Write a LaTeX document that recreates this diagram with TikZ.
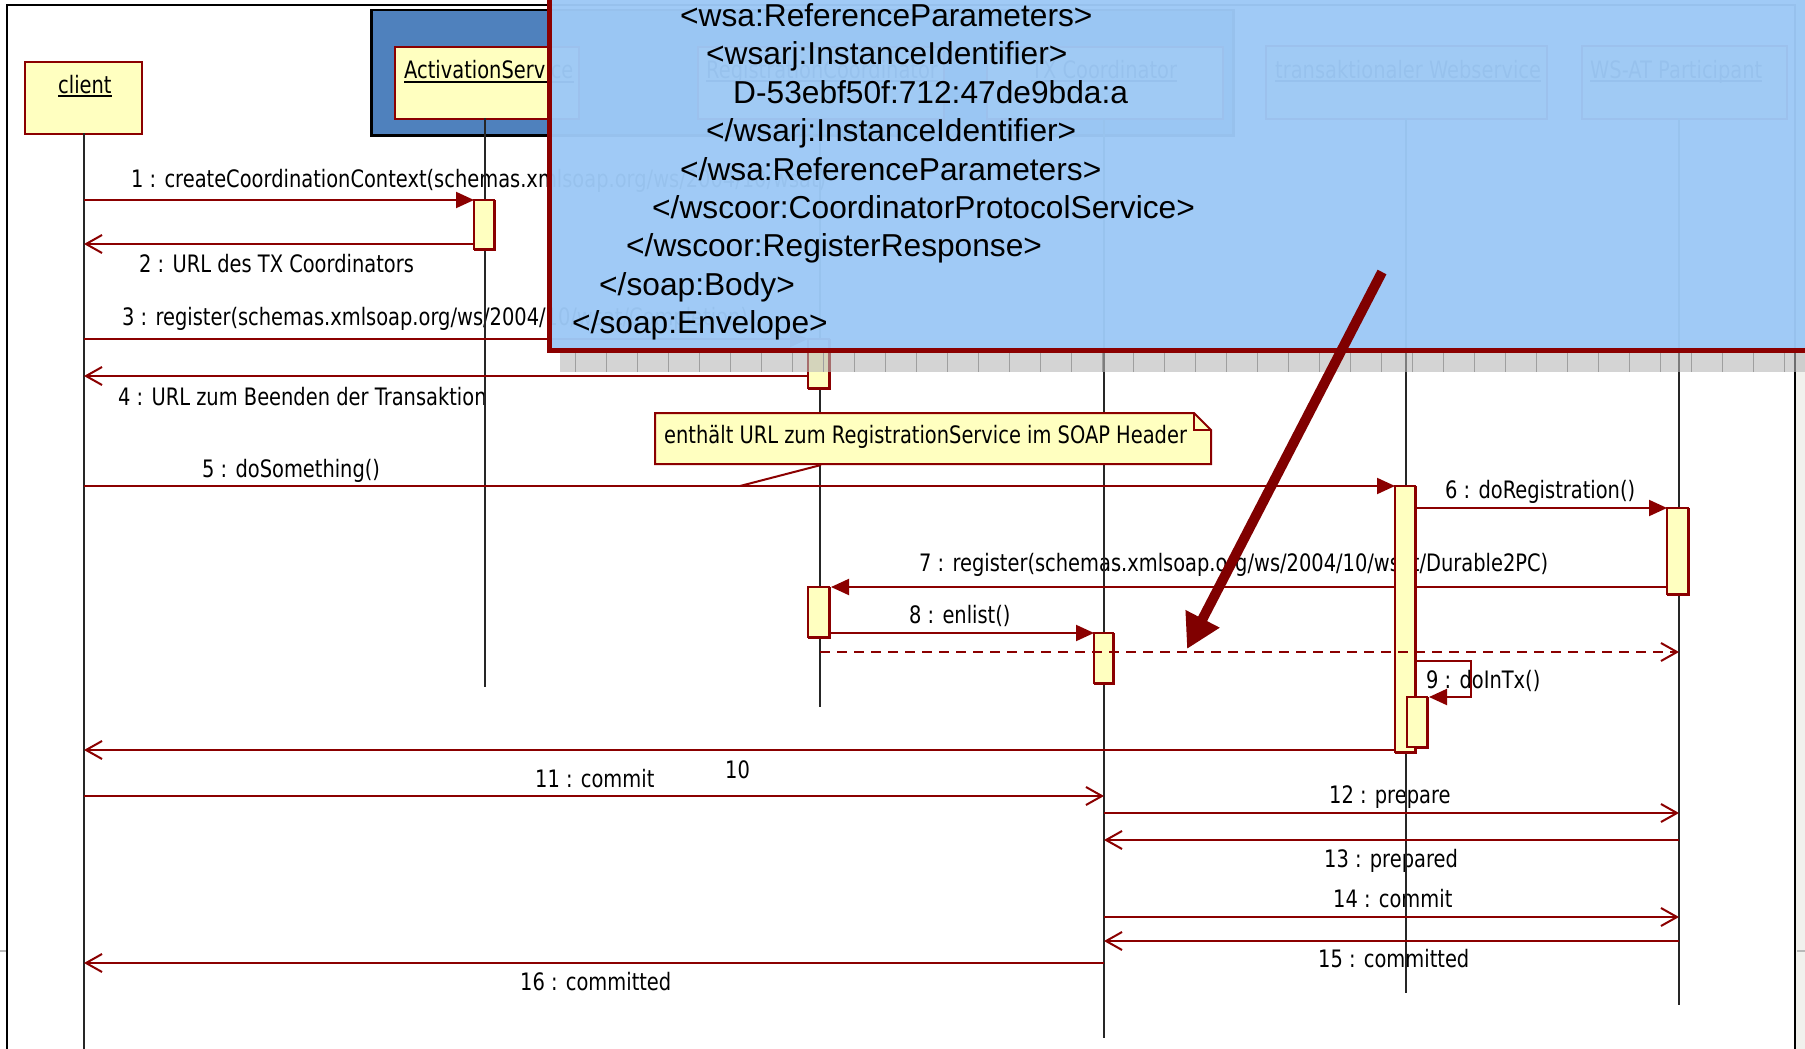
\documentclass[tikz,border=0pt]{standalone}
\usepackage{fontspec}
\setmainfont{DejaVu Sans}
\newfontfamily\umlfont[FakeStretch=0.81]{DejaVu Sans}
\newfontfamily\xmlfont{Liberation Sans}
\usetikzlibrary{arrows.meta}

\definecolor{umlred}{HTML}{8B0000}
\definecolor{bigred}{HTML}{800000}
\definecolor{umlyellow}{HTML}{FFFFC0}
\definecolor{groupblue}{HTML}{4F81BD}
\definecolor{overlayblue}{HTML}{9DC9F6}
\definecolor{shadowgray}{HTML}{B8B8B8}
\definecolor{sidegray}{HTML}{F1F1ED}

\begin{document}
\begin{tikzpicture}[x=1pt,y=-1pt,
  lbl/.style={anchor=base west, inner sep=0pt, font=\umlfont\fontsize{24}{28}\selectfont},
  xml/.style={anchor=base west, inner sep=0pt, font=\xmlfont\fontsize{31.7}{38}\selectfont},
  hbox/.style={draw=umlred, fill=umlyellow, line width=2pt, anchor=north west, inner sep=0pt},
  act/.style={draw=umlred, fill=umlyellow, line width=2pt, anchor=north west, inner sep=0pt, minimum width=20pt},
  life/.style={line width=1.5pt, black!85},
  msg/.style={umlred, line width=2pt},
  sync/.style={msg, -{Triangle[length=18pt,width=16pt]}},
  reply/.style={msg, -{Straight Barb[length=16pt,width=18pt,line width=2pt]}},
]
\useasboundingbox (0,0) rectangle (1805,1049);
\clip (0,0) rectangle (1805,1049);

% canvas, window edge and frame
\fill[white] (0,0) rectangle (1805,1049);
\fill[sidegray] (1796,0) rectangle (1805,1049);
\draw[gray!55, line width=2pt] (0,951) -- (6,951) (1797,951) -- (1805,951);
\draw[line width=2pt] (7,1060) -- (7,5) -- (1795,5) -- (1795,1060);

% coordinator group
\node[draw=black, fill=groupblue, line width=2.5pt, anchor=north west,
      minimum width=862pt, minimum height=125pt, inner sep=0pt] (grp) at (370,9) {};

% lifeline heads
\node[hbox, minimum width=117pt, minimum height=72pt] (hcl) at (24,61) {};
\node[hbox, minimum width=184pt, minimum height=72pt] (hact) at (394,46) {};
\node[hbox, minimum width=246pt, minimum height=72pt] (hreg) at (697,46) {};
\node[hbox, minimum width=236pt, minimum height=72pt] (htx) at (986,46) {};
\node[hbox, minimum width=281pt, minimum height=73pt] (hws) at (1265,45) {};
\node[hbox, minimum width=205pt, minimum height=73pt] (hpt) at (1581,45) {};

\node[lbl] (ncl) at (58,93) {client};
\node[lbl] (nact) at (404,79) {ActivationService};
\node[lbl] (nreg) at (706,78) {RegistrationCoordinator};
\node[lbl] (ntx) at (1031,78) {TX Coordinator};
\node[lbl] (nws) at (1275,78) {transaktionaler Webservice};
\node[lbl] (npt) at (1590,78) {WS-AT Participant};
\foreach \n in {ncl,nact,nreg,ntx,nws,npt}
  \draw[line width=1.5pt] ([yshift=-3pt]\n.base west) -- ([yshift=-3pt]\n.base east);

% message labels
\node[lbl] (l1) at (131,187) {1 : createCoordinationContext(schemas.xmlsoap.org/ws/2004/10/wsat)};
\node[lbl] (l2) at (139,272) {2 : URL des TX Coordinators};
\node[lbl] (l3) at (122,325) {3 : register(schemas.xmlsoap.org/ws/2004/10/wsat/Completion)};
\node[lbl] (l4) at (118,405) {4 : URL zum Beenden der Transaktion};
\node[lbl] (l5) at (202,477) {5 : doSomething()};
\node[lbl] (l6) at (1445,498) {6 : doRegistration()};
\node[lbl] (l7) at (919,571) {7 : register(schemas.xmlsoap.org/ws/2004/10/wsat/Durable2PC)};
\node[lbl] (l8) at (909,623) {8 : enlist()};
\node[lbl] (l9) at (1426,688) {9 : doInTx()};
\node[lbl] (l10) at (725,778) {10};
\node[lbl] (l11) at (535,787) {11 : commit};
\node[lbl] (l12) at (1329,803) {12 : prepare};
\node[lbl] (l13) at (1324,867) {13 : prepared};
\node[lbl] (l14) at (1333,907) {14 : commit};
\node[lbl] (l15) at (1318,967) {15 : committed};
\node[lbl] (l16) at (520,990) {16 : committed};

% lifelines
\coordinate (lc) at (84,133);
\coordinate (la) at (485,118);
\coordinate (lr) at (820,118);
\coordinate (lt) at (1104,118);
\coordinate (lw) at (1406,118);
\coordinate (lp) at (1679,118);
\draw[life] (lc) -- ++(0,930);
\draw[life] (la) -- ++(0,569);
\draw[life] (lr) -- ++(0,589);
\draw[life] (lt) -- ++(0,920);
\draw[life] (lw) -- ++(0,875);
\draw[life] (lp) -- ++(0,887);

% activations (placed first so messages can attach to them)
\path
  node[act, minimum height=49pt] (a1) at (474,200) {}
  node[act, minimum width=21pt, minimum height=49pt] (a2) at (808,339) {}
  node[act, minimum height=266pt] (a3) at (1395,486) {}
  node[act, minimum width=21pt, minimum height=86pt] (a4) at (1667,508) {}
  node[act, minimum width=21pt, minimum height=50pt] (a5) at (808,587) {}
  node[act, minimum width=19pt, minimum height=50pt] (a6) at (1094,633) {}
  node[act, minimum height=50pt] (a7) at (1407,697) {};

% messages
\draw[sync] (lc |- a1.north west) -- (a1.north west);
\draw[reply] (a1.west |- 0,244) -- (lc |- 0,244);
\draw[sync] (lc |- a2.north west) -- (a2.north west);
\draw[reply] (a2.west |- 0,376) -- (lc |- 0,376);
\draw[sync] (lc |- a3.north west) -- (a3.north west);
\draw[sync] (a3.east |- a4.north west) -- (a4.north west);
\draw[sync] (a4.west |- a5.north east) -- (a5.north east);
\draw[sync] (a5.east |- a6.north west) -- (a6.north west);
\draw[sync] (a3.east |- 0,661) -- ++(54,0) -- ++(0,36) -- (a7.north east);
\draw[reply] (a3.west |- 0,750) -- (lc |- 0,750);
\draw[reply] (lc |- 0,796) -- (lt |- 0,796);
\draw[reply] (lt |- 0,813) -- (lp |- 0,813);
\draw[reply] (lp |- 0,840) -- (lt |- 0,840);
\draw[reply] (lt |- 0,917) -- (lp |- 0,917);
\draw[reply] (lp |- 0,941) -- (lt |- 0,941);
\draw[reply] (lt |- 0,963) -- (lc |- 0,963);

% note attached to message 5
\draw[umlred, fill=umlyellow, line width=2pt]
  (655,413) -- (1194,413) -- (1211,430) -- (1211,464) -- (655,464) -- cycle;
\draw[umlred, line width=1.5pt] (1194,413) -- (1194,430) -- (1211,430);
\node[lbl] (note) at (664,443) {enthält URL zum RegistrationService im SOAP Header};
\coordinate (notefoot) at (821,465);
\coordinate (notetip) at (740,486);
\draw[umlred, line width=2pt] (notefoot) -- (notetip);

% activation boxes on top of the message lines
\foreach \a/\x/\y/\w/\h in {a1/474/200/20/49, a2/808/339/21/49, a3/1395/486/20/266,
    a4/1667/508/21/86, a5/808/587/21/50, a6/1094/633/19/50, a7/1407/697/20/50}
  \draw[umlred, fill=umlyellow, line width=2pt] (\x,\y) rectangle ++(\w,\h);

% asynchronous message drawn dashed
\draw[reply, dash pattern=on 10pt off 7pt] (lr |- 0,652) -- (lp |- 0,652);

% SOAP response panel
\fill[shadowgray, fill opacity=0.6] (560,353) rectangle (1815,372);
\foreach \x in {575,606,...,1805}
  \draw[gray!75, line width=1pt] (\x,353) -- (\x,372);
\fill[overlayblue, fill opacity=0.965] (549,-10) rectangle (1815,350.5);
\draw[umlred, line width=5pt] (549,-10) -- (549,350.5) -- (1815,350.5);

\node[xml] (x1) at (680,27) {<wsa:ReferenceParameters>};
\node[xml] (x2) at (706,65) {<wsarj:InstanceIdentifier>};
\node[xml] (x3) at (733,103) {D-53ebf50f:712:47de9bda:a};
\node[xml] (x4) at (706,141) {</wsarj:InstanceIdentifier>};
\node[xml] (x5) at (680,180) {</wsa:ReferenceParameters>};
\node[xml] (x6) at (652,218) {</wscoor:CoordinatorProtocolService>};
\node[xml] (x7) at (626,256) {</wscoor:RegisterResponse>};
\node[xml] (x8) at (599,295) {</soap:Body>};
\node[xml] (x9) at (572,333) {</soap:Envelope>};

% pointer arrow
\coordinate (bigA) at (1382,272);
\coordinate (bigB) at (1187,649);
\draw[bigred, line width=10pt, -{Triangle[length=34pt,width=36pt]}] (bigA) -- (bigB);
\end{tikzpicture}
\end{document}
